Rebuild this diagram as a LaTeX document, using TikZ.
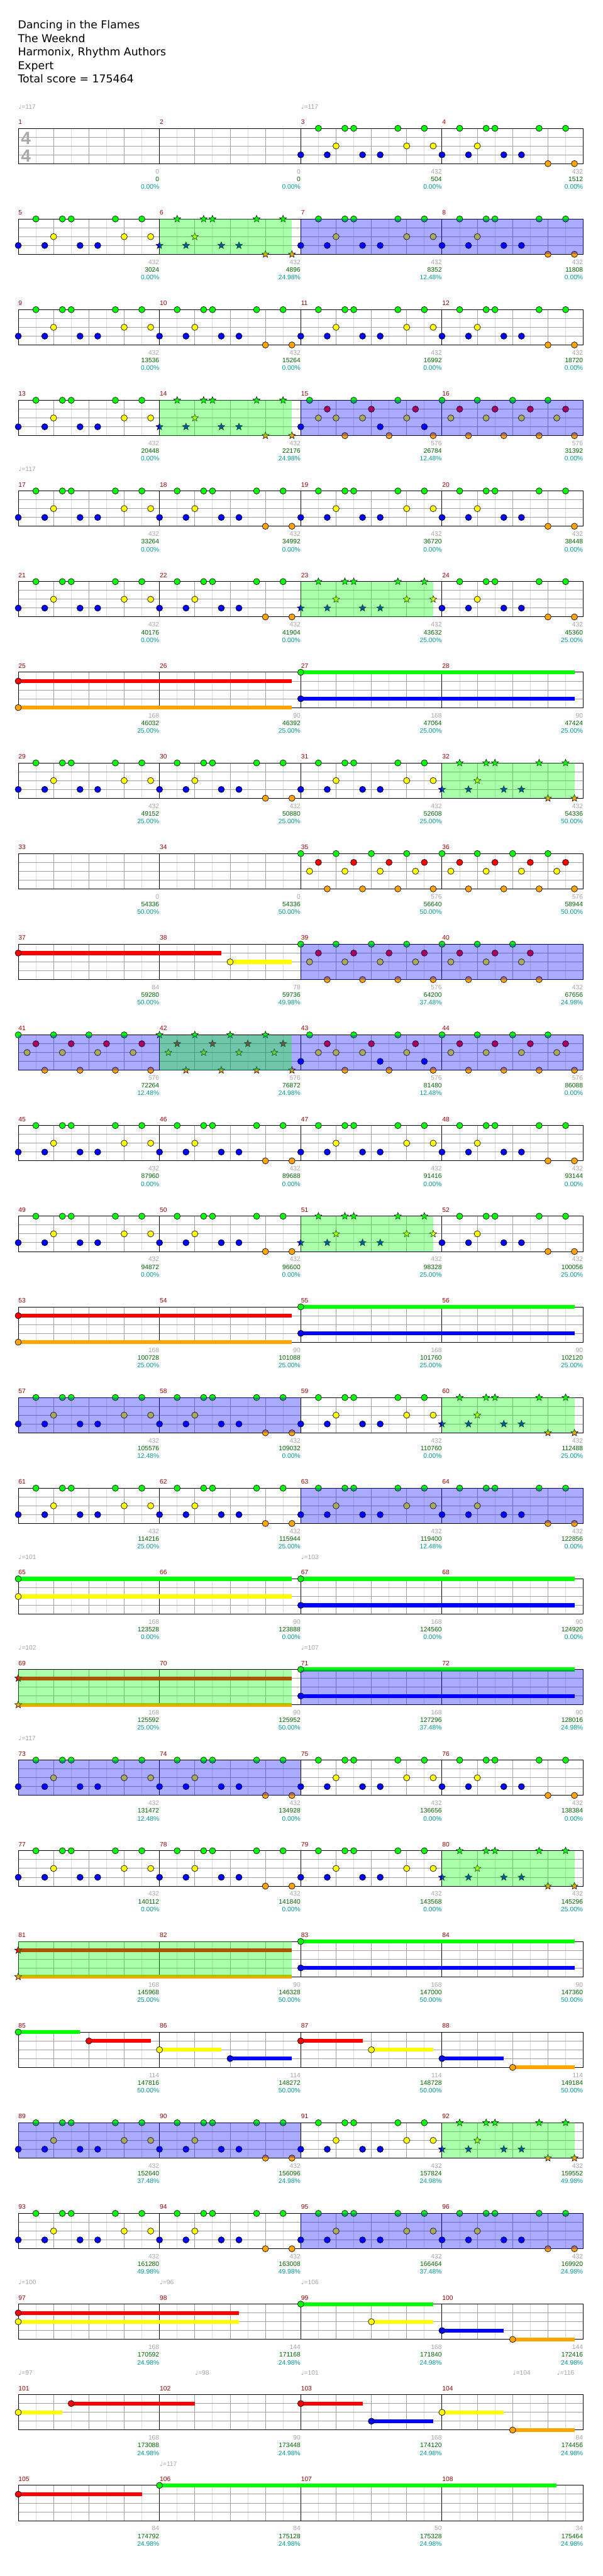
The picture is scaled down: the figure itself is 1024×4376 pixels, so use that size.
\documentclass[tikz,border=0pt]{standalone}
\usepackage{fontspec}
\setmainfont{DejaVu Sans}
\newfontfamily\chartfont{Liberation Sans}
\usetikzlibrary{shapes.geometric}
\definecolor{lane0}{HTML}{00FF00}
\definecolor{lane1}{HTML}{FF0000}
\definecolor{lane2}{HTML}{FFFF00}
\definecolor{lane3}{HTML}{0000FF}
\definecolor{lane4}{HTML}{FFA500}
\definecolor{BarRed}{HTML}{990000}
\definecolor{BaseGray}{HTML}{A6A6A6}
\definecolor{ScoreGreen}{HTML}{006400}
\definecolor{PctTeal}{HTML}{009999}
\definecolor{BeatGray}{HTML}{A0A0A0}
\definecolor{HalfGray}{HTML}{DCDCDC}
\definecolor{SigGray}{HTML}{AAAAAA}

\tikzset{
  gem/.style={circle,draw=black,line width=0.7pt,minimum size=10.6pt,inner sep=0pt},
  stargem/.style={star,star points=5,star point ratio=2.3,draw=black,line width=0.6pt,minimum size=12.5pt,inner sep=0pt},
  small/.style={font=\chartfont\fontsize{11}{13}\selectfont,inner sep=0pt},
}

\def\patA{0/3,2/0,3/3,4/2,5/0,6/0,7/3,9/3,11/0,12/2,14/0,15/2}
\def\patB{0/3,2/0,3/3,4/2,5/0,6/0,7/3,9/3,11/0,12/4,14/0,15/4}
\def\patC{0/0,1/2,2/1,3/4,4/0,5/2,6/1,7/4,8/0,9/2,10/1,11/4,12/0,13/2,14/1,15/4}
\def\patD{0/3,1/0,2/2,3/1,4/2,5/4,6/0,7/2,8/1,9/3,10/4,11/0,12/2,13/1,14/3,15/4}
\def\patE{0/0,1/2,2/1,3/4,4/0,5/2,6/1,7/4,8/0,9/2,10/1,11/4}

\newcommand\barxy[1]{%
  \pgfmathtruncatemacro\barrow{(#1-1)/4}%
  \pgfmathtruncatemacro\barcol{mod(#1-1,4)}%
  \pgfmathsetmacro\bx{31+240*\barcol}%
  \pgfmathsetmacro\by{218+154*\barrow}}

\begin{document}
\begin{tikzpicture}[x=1pt,y=-1pt,line width=1pt]
\useasboundingbox (0,0) rectangle (1024,4376);
\fill[white] (0,0) rectangle (1024,4376);

\node[anchor=base west,inner sep=0pt,font=\fontsize{18.5}{22}\selectfont] (song) at (30,49) {Dancing in the Flames};
\node[anchor=base west,inner sep=0pt,font=\fontsize{18.5}{22}\selectfont] (artist) at (30,72) {The Weeknd};
\node[anchor=base west,inner sep=0pt,font=\fontsize{18.5}{22}\selectfont] (charter) at (30,95) {Harmonix, Rhythm Authors};
\node[anchor=base west,inner sep=0pt,font=\fontsize{18.5}{22}\selectfont] (diff) at (30,118) {Expert};
\node[anchor=base west,inner sep=0pt,font=\fontsize{18.5}{22}\selectfont] (total) at (30,141) {Total score = 175464};

% staves
\foreach \r in {0,...,26}{
  \pgfmathsetmacro\ry{218+154*\r}
  \foreach \k in {1,3,...,31} \draw[HalfGray] (31+30*\k,\ry) -- ++(0,60);
  \foreach \k in {1,...,15} \draw[BeatGray] (31+60*\k,\ry) -- ++(0,60);
  \foreach \k in {1,2,3} \draw[BeatGray] (31,\ry+15*\k) -- ++(960,0);
  \foreach \k in {1,2,3} \draw (31+240*\k,\ry) -- ++(0,60);
  \draw (31,\ry) rectangle ++(960,60);
}
\node[anchor=base,inner sep=0pt,text=SigGray,font=\chartfont\bfseries\fontsize{30}{30}\selectfont] (sigtop) at (44,245) {4};
\node[anchor=base,inner sep=0pt,text=SigGray,font=\chartfont\bfseries\fontsize{30}{30}\selectfont] (sigbot) at (44,275) {4};

% bar numbers
\foreach \m in {1,...,108}{
  \barxy{\m}
  \node[small,anchor=base west,text=BarRed] (bar\m) at (\bx,\by-7) {\m};
}

% tempo marks
\foreach \m/\p/\t in {1/0/117,3/0/117,17/0/117,65/0/101,67/0/103,69/0/102,71/0/107,73/0/117,
    97/0/100,98/0/96,99/0/106,101/0/97,102/4/98,103/0/101,104/8/104,104/13/116,106/0/117}{
  \barxy{\m}
  \node[small,anchor=base west,text=BaseGray] (tempo\m-\p) at (\bx+15*\p,\by-33) {{\fontspec{DejaVu Sans}\char"2669}=\t};
}

% sustains
\foreach \m/\p/\l/\len/\g in {25/0/1/31/gem,25/0/4/31/gem,27/0/0/31/gem,27/0/3/31/gem,
    37/0/1/23/gem,38/8/2/7/gem,53/0/1/31/gem,53/0/4/31/gem,55/0/0/31/gem,55/0/3/31/gem,
    65/0/0/31/gem,65/0/2/31/gem,67/0/0/31/gem,67/0/3/31/gem,
    69/0/1/31/stargem,69/0/4/31/stargem,71/0/0/31/gem,71/0/3/31/gem,
    81/0/1/31/stargem,81/0/4/31/stargem,83/0/0/31/gem,83/0/3/31/gem,
    85/0/0/7/gem,85/8/1/7/gem,86/0/2/7/gem,86/8/3/7/gem,
    87/0/1/7/gem,87/8/2/7/gem,88/0/3/7/gem,88/8/4/7/gem,
    97/0/1/25/gem,97/0/2/25/gem,99/0/0/15/gem,99/8/2/7/gem,100/0/3/7/gem,100/8/4/7/gem,
    101/0/2/5/gem,101/6/1/14/gem,103/0/1/7/gem,103/8/3/7/gem,104/0/2/7/gem,104/8/4/7/gem,
    105/0/1/14/gem,106/0/0/45/gem}{
  \barxy{\m}
  \fill[lane\l] (\bx+15*\p,\by+15*\l-3.3) rectangle ++(15*\len,6.6);
  \node[\g,fill=lane\l] at (\bx+15*\p,\by+15*\l) {};
}

% notes
\foreach \m/\pat in {3/A,4/B,5/A,7/A,8/B,9/A,10/B,11/A,12/B,13/A,15/D,16/C,
    17/A,18/B,19/A,20/B,21/A,22/B,24/B,29/A,30/B,31/A,35/C,36/C,39/C,40/E,
    41/C,43/D,44/C,45/A,46/B,47/A,48/B,49/A,50/B,52/B,
    57/A,58/B,59/A,61/A,62/B,63/A,64/B,73/A,74/B,75/A,76/B,77/A,78/B,79/A,
    89/A,90/B,91/A,93/A,94/B,95/A,96/B}{
  \barxy{\m}
  \edef\curpat{\csname pat\pat\endcsname}
  \foreach \p/\l in \curpat
    \node[gem,fill=lane\l] at (\bx+15*\p,\by+15*\l) {};
}
\foreach \m/\pat in {6/B,14/B,23/A,32/B,42/C,51/A,60/B,80/B,92/B}{
  \barxy{\m}
  \edef\curpat{\csname pat\pat\endcsname}
  \foreach \p/\l in \curpat
    \node[stargem,fill=lane\l] at (\bx+15*\p,\by+15*\l) {};
}

% star power and activation
\foreach \m/\p/\len/\c in {6/0/15/lane0,7/0/32/lane3,14/0/15/lane0,15/0/32/lane3,
    23/0/15/lane0,32/0/15/lane0,39/0/32/lane3,41/0/64/lane3,42/0/15/lane0,51/0/15/lane0,
    57/0/32/lane3,60/0/15/lane0,63/0/32/lane3,69/0/31/lane0,71/0/32/lane3,73/0/32/lane3,
    80/0/15/lane0,81/0/31/lane0,89/0/32/lane3,92/0/15/lane0,95/0/32/lane3}{
  \barxy{\m}
  \fill[\c,fill opacity=0.333] (\bx+15*\p,\by) rectangle ++(15*\len,60);
}

% bar totals
\foreach \m/\b/\s/\q in {1/0/0/0.00,2/0/0/0.00,3/432/504/0.00,4/432/1512/0.00,
    5/432/3024/0.00,6/432/4896/24.98,7/432/8352/12.48,8/432/11808/0.00,
    9/432/13536/0.00,10/432/15264/0.00,11/432/16992/0.00,12/432/18720/0.00,
    13/432/20448/0.00,14/432/22176/24.98,15/576/26784/12.48,16/576/31392/0.00,
    17/432/33264/0.00,18/432/34992/0.00,19/432/36720/0.00,20/432/38448/0.00,
    21/432/40176/0.00,22/432/41904/0.00,23/432/43632/25.00,24/432/45360/25.00,
    25/168/46032/25.00,26/90/46392/25.00,27/168/47064/25.00,28/90/47424/25.00,
    29/432/49152/25.00,30/432/50880/25.00,31/432/52608/25.00,32/432/54336/50.00,
    33/0/54336/50.00,34/0/54336/50.00,35/576/56640/50.00,36/576/58944/50.00,
    37/84/59280/50.00,38/78/59736/49.98,39/576/64200/37.48,40/432/67656/24.98,
    41/576/72264/12.48,42/576/76872/24.98,43/576/81480/12.48,44/576/86088/0.00,
    45/432/87960/0.00,46/432/89688/0.00,47/432/91416/0.00,48/432/93144/0.00,
    49/432/94872/0.00,50/432/96600/0.00,51/432/98328/25.00,52/432/100056/25.00,
    53/168/100728/25.00,54/90/101088/25.00,55/168/101760/25.00,56/90/102120/25.00,
    57/432/105576/12.48,58/432/109032/0.00,59/432/110760/0.00,60/432/112488/25.00,
    61/432/114216/25.00,62/432/115944/25.00,63/432/119400/12.48,64/432/122856/0.00,
    65/168/123528/0.00,66/90/123888/0.00,67/168/124560/0.00,68/90/124920/0.00,
    69/168/125592/25.00,70/90/125952/50.00,71/168/127296/37.48,72/90/128016/24.98,
    73/432/131472/12.48,74/432/134928/0.00,75/432/136656/0.00,76/432/138384/0.00,
    77/432/140112/0.00,78/432/141840/0.00,79/432/143568/0.00,80/432/145296/25.00,
    81/168/145968/25.00,82/90/146328/50.00,83/168/147000/50.00,84/90/147360/50.00,
    85/114/147816/50.00,86/114/148272/50.00,87/114/148728/50.00,88/114/149184/50.00,
    89/432/152640/37.48,90/432/156096/24.98,91/432/157824/24.98,92/432/159552/49.98,
    93/432/161280/49.98,94/432/163008/49.98,95/432/166464/37.48,96/432/169920/24.98,
    97/168/170592/24.98,98/144/171168/24.98,99/168/171840/24.98,100/144/172416/24.98,
    101/168/173088/24.98,102/90/173448/24.98,103/168/174120/24.98,104/84/174456/24.98,
    105/84/174792/24.98,106/84/175128/24.98,107/50/175328/24.98,108/34/175464/24.98}{
  \barxy{\m}
  \node[small,anchor=base east,text=BaseGray] (base\m) at (\bx+240,\by+77) {\b};
  \node[small,anchor=base east,text=ScoreGreen] (score\m) at (\bx+240,\by+90) {\s};
  \node[small,anchor=base east,text=PctTeal] (pct\m) at (\bx+240,\by+103) {\q\%};
}
\end{tikzpicture}
\end{document}
